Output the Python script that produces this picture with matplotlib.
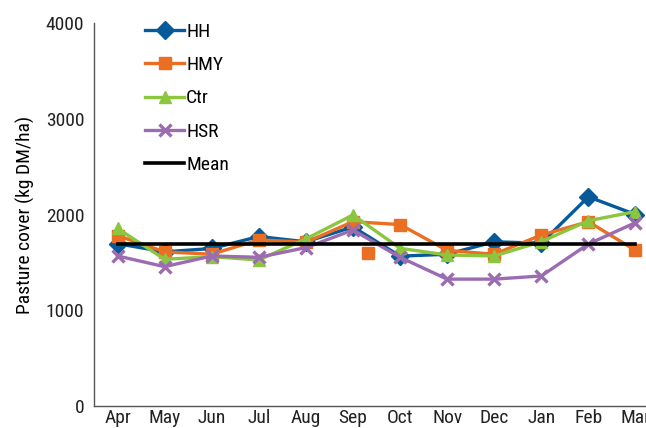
import matplotlib
matplotlib.use("Agg")
import matplotlib.pyplot as plt
from matplotlib import font_manager

names = {f.name for f in font_manager.fontManager.ttflist}
fam = [n for n in ["Liberation Sans Narrow", "Roboto Condensed", "Liberation Sans"] if n in names] + ["DejaVu Sans"]
plt.rcParams['font.family'] = fam

months = ["Apr", "May", "Jun", "Jul", "Aug", "Sep", "Oct", "Nov", "Dec", "Jan", "Feb", "Mar"]
hh  = [1695, 1610, 1645, 1770, 1715, 1870, 1565, 1585, 1715, 1700, 2185, 2000]
hmy = [1780, 1610, 1585, 1735, 1710, 1925, 1895, 1625, 1585, 1785, 1925, 1625]
ctr = [1855, 1532, 1560, 1525, 1745, 1995, 1647, 1577, 1567, 1716, 1935, 2030]
hsr = [1567, 1455, 1567, 1553, 1654, 1838, 1553, 1325, 1325, 1358, 1692, 1915]
mean = [1695] * 12
# stray HMY marker drawn between Sep and Oct in the original
stray_x = [5.32]
stray_y = [1600]

fig = plt.figure(figsize=(6.46, 4.28), dpi=100)
ax = fig.add_axes([94/646, 22/428, 565/646, 383/428])
x = list(range(len(months)))

lw = 2.4
ax.plot(x, hh, color="#075a9a", marker="D", markersize=9, lw=lw, label="HH", zorder=3)
ax.plot(x, hmy, color="#ea6f22", marker="s", markersize=9, lw=lw, label="HMY", zorder=3)
ax.plot(x, ctr, color="#8cc63f", marker="^", markersize=9, lw=lw, label="Ctr", zorder=3)
ax.plot(x, hsr, color="#9b6db0", marker="x", markersize=9, mew=2.4, lw=lw, label="HSR", zorder=3)
ax.plot(x, mean, color="black", lw=2.6, label="Mean", zorder=4)
ax.plot(stray_x, stray_y, color="#ea6f22", marker="s", markersize=9, ls="none", zorder=3)

ax.set_xlim(-0.5, 11.5)
ax.set_ylim(0, 4000)
ax.set_yticks([0, 1000, 2000, 3000, 4000])
ax.set_xticks(x)
ax.set_xticklabels(months)
ax.tick_params(axis='both', length=0, labelsize=14, colors="#222222")
ax.tick_params(axis='y', pad=7)
ax.tick_params(axis='x', pad=2)
for s in ["top", "right"]:
    ax.spines[s].set_visible(False)
for s in ["left", "bottom"]:
    ax.spines[s].set_color("#555555")
    ax.spines[s].set_linewidth(1.0)
ax.set_ylabel("Pasture cover (kg DM/ha)", fontsize=14, labelpad=8)

ax.legend(loc="upper left", bbox_to_anchor=(0.077, 1.02), frameon=False, fontsize=14,
          handlelength=2.0, handletextpad=0.1, labelspacing=0.78, borderaxespad=0)

fig.savefig("out.png", dpi=100)
